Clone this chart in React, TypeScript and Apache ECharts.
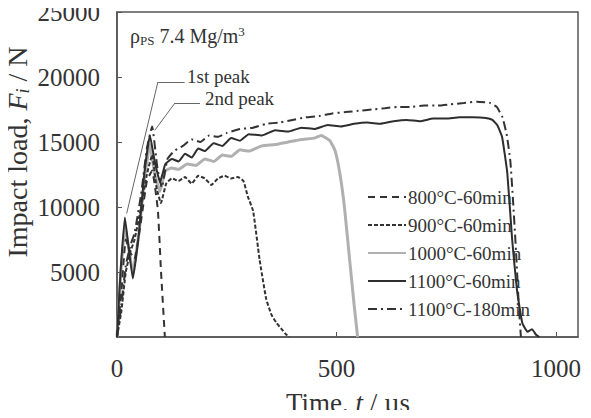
import React, { useEffect, useRef } from "react";
import * as echarts from "echarts";

// Impact load histories, time in µs and load in N
const t800 = [0, 10, 20, 30, 40, 55, 68, 80, 93, 100, 109];
const f800 = [0, 3500, 7500, 6500, 6000, 9000, 12000, 12800, 9800, 5200, 0];

const t900 = [0, 10, 20, 30, 40, 55, 68, 80, 90, 100, 112, 125, 140, 155, 170, 185, 200, 215, 230, 245, 260, 275, 288, 298, 310, 325, 340, 352, 363, 375, 385, 393];
const f900 = [0, 2000, 5000, 6500, 7500, 10000, 12500, 14000, 11500, 10300, 11800, 12200, 12000, 12300, 11800, 12400, 12200, 11700, 12200, 12400, 12200, 12300, 12000, 10800, 9700, 5900, 2900, 1700, 1100, 600, 200, 0];

const t1000 = [0, 8, 18, 26, 36, 50, 62, 75, 86, 98, 110, 125, 140, 160, 180, 200, 220, 240, 260, 280, 300, 330, 360, 390, 420, 450, 465, 485, 497, 508, 518, 530, 540, 548];
const f1000 = [0, 4500, 8500, 7000, 5000, 8000, 12000, 14800, 12500, 11200, 12800, 13000, 12900, 13300, 13200, 13700, 13500, 14000, 13900, 14400, 14300, 14700, 14800, 15000, 15200, 15300, 15500, 15100, 14300, 12500, 10000, 5900, 2500, 0];

const t1100 = [0, 8, 18, 26, 36, 50, 62, 75, 86, 98, 110, 125, 140, 155, 170, 185, 200, 220, 240, 260, 280, 300, 330, 360, 390, 420, 450, 480, 510, 540, 570, 600, 630, 660, 690, 720, 750, 780, 810, 840, 855, 866, 877, 889, 900, 911, 923, 935, 945, 955, 962];
const f1100 = [0, 5000, 9200, 7000, 4500, 8000, 12500, 15500, 13500, 11900, 13300, 13700, 13500, 14100, 13800, 14500, 14300, 14900, 14700, 15300, 15100, 15600, 15500, 15900, 15800, 16100, 16000, 16300, 16200, 16400, 16500, 16400, 16600, 16700, 16600, 16800, 16800, 16900, 16900, 16850, 16700, 16300, 15400, 12600, 7500, 3600, 1100, 400, 600, 150, 0];

const t1100l = [0, 10, 20, 30, 40, 55, 68, 80, 92, 102, 115, 130, 150, 170, 190, 210, 230, 250, 280, 310, 340, 370, 400, 430, 460, 490, 520, 550, 580, 610, 640, 670, 700, 730, 760, 790, 820, 850, 865, 878, 888, 896, 902, 909, 915, 920];
const f1100l = [0, 2500, 5500, 7000, 8000, 11000, 14500, 16200, 13000, 11500, 13700, 14300, 14700, 15200, 15000, 15500, 15400, 15700, 16000, 16100, 16400, 16500, 16700, 16900, 17000, 17200, 17300, 17400, 17500, 17600, 17700, 17700, 17800, 17800, 17900, 18000, 18100, 18000, 17700, 16900, 15500, 13500, 10500, 6500, 2500, 0];

const seriesNames = ["800°C-60min", "900°C-60min", "1000°C-60min", "1100°C-60min", "1100°C-180min"];
const xTicks = [0, 500, 1000];
const yTicks = [5000, 10000, 15000, 20000, 25000];

// Leader lines for the peak callouts, in data coordinates
const peak1Line = [[154, 19600], [93, 19600], [22, 9500]];
const peak2Line = [[189, 18000], [132, 18000], [86, 15900]];

const zip = (t: number[], f: number[]) => t.map((v, i) => [v, f[i]]);
const segs = (pts: number[][]) =>
  pts.slice(1).map((p, i) => [{ coord: pts[i] }, { coord: p }]);

const FONT = "'Liberation Serif', 'Times New Roman', serif";
const INK = "#333";

export default function App() {
  const ref = useRef<HTMLDivElement>(null);
  useEffect(() => {
    if (!ref.current) return;
    const chart = echarts.init(ref.current, undefined, { renderer: "svg" });
    const base = {
      type: "line",
      showSymbol: false,
      symbol: "none",
      smooth: 0.12,
      silent: true,
    };
    chart.setOption({
      animation: false,
      backgroundColor: "#fff",
      textStyle: { fontFamily: FONT },
      grid: {
        left: 117,
        top: 12,
        right: 13,
        bottom: 81,
        show: true,
        borderColor: "#555",
        borderWidth: 1.5,
        outerBoundsMode: "none",
        containLabel: false,
      },
      xAxis: {
        type: "value",
        min: 0,
        max: 1050,
        interval: 500,
        splitLine: { show: false },
        axisLine: { lineStyle: { color: "#555", width: 1.5 } },
        axisTick: { inside: true, length: 5, lineStyle: { color: "#555" } },
        axisLabel: {
          margin: 19,
          fontSize: 25,
          color: INK,
          fontFamily: FONT,
          showMaxLabel: false,
          formatter: (v: number) => (xTicks.includes(v) ? String(v) : ""),
        },
      },
      yAxis: {
        type: "value",
        min: 0,
        max: 25000,
        interval: 5000,
        splitLine: { show: false },
        axisLine: { lineStyle: { color: "#555", width: 1.5 } },
        axisTick: { inside: true, length: 5, lineStyle: { color: "#555" } },
        axisLabel: {
          margin: 17,
          fontSize: 25,
          color: INK,
          fontFamily: FONT,
          showMinLabel: false,
          formatter: (v: number) => (yTicks.includes(v) ? String(v) : ""),
        },
      },
      legend: {
        data: seriesNames,
        orient: "vertical",
        left: 362,
        top: 182,
        itemWidth: 38,
        itemHeight: 14,
        itemGap: 8,
        itemStyle: { opacity: 0 },
        textStyle: { fontSize: 19, color: INK, fontFamily: FONT, lineHeight: 20, padding: [0, 0, 0, -3] },
        selectedMode: false,
      },
      graphic: [
        {
          type: "text",
          x: 17,
          y: 152,
          rotation: Math.PI / 2,
          style: {
            text: "Impact load, {i|F}{s|i} / N",
            font: `28px ${FONT}`,
            fill: INK,
            align: "center",
            verticalAlign: "middle",
            rich: {
              i: { fontSize: 28, fontStyle: "italic", fontFamily: FONT, fill: INK },
              s: { fontSize: 18, fontStyle: "italic", fontFamily: FONT, fill: INK, padding: [11, 0, 0, 0] },
            },
          },
        },
        {
          type: "text",
          x: 348,
          y: 403,
          style: {
            text: "Time, {i|t} / µs",
            font: `27px ${FONT}`,
            fill: INK,
            align: "center",
            verticalAlign: "middle",
            rich: {
              i: { fontSize: 27, fontStyle: "italic", fontFamily: FONT, fill: INK },
            },
          },
        },
        {
          type: "text",
          x: 130,
          y: 36,
          style: {
            text: "ρ{s|PS} 7.4 Mg/m{p|3}",
            font: `20px ${FONT}`,
            fill: INK,
            verticalAlign: "middle",
            rich: {
              s: { fontSize: 13, fontFamily: FONT, fill: INK, padding: [8, 0, 0, 0] },
              p: { fontSize: 13, fontFamily: FONT, fill: INK, padding: [0, 0, 9, 0] },
            },
          },
        },
        {
          type: "text",
          x: 187,
          y: 76,
          style: { text: "1st peak", font: `19px ${FONT}`, fill: INK, verticalAlign: "middle" },
        },
        {
          type: "text",
          x: 205,
          y: 98,
          style: { text: "2nd peak", font: `19px ${FONT}`, fill: INK, verticalAlign: "middle" },
        },
      ],
      series: [
        {
          ...base,
          name: seriesNames[0],
          data: zip(t800, f800),
          lineStyle: { color: "#333", width: 2, type: [7, 5] },
          itemStyle: { color: "#333" },
          z: 3,
        },
        {
          ...base,
          name: seriesNames[1],
          data: zip(t900, f900),
          lineStyle: { color: "#333", width: 2, type: [4, 2] },
          itemStyle: { color: "#333" },
          z: 3,
        },
        {
          ...base,
          name: seriesNames[2],
          data: zip(t1000, f1000),
          lineStyle: { color: "#b0b0b0", width: 3, type: "solid" },
          itemStyle: { color: "#b0b0b0" },
          z: 2,
        },
        {
          ...base,
          name: seriesNames[3],
          data: zip(t1100, f1100),
          lineStyle: { color: "#2e2e2e", width: 2, type: "solid" },
          itemStyle: { color: "#2e2e2e" },
          z: 4,
          markLine: {
            silent: true,
            symbol: "none",
            label: { show: false },
            lineStyle: { color: "#666", width: 1, type: "solid" },
            data: [...segs(peak1Line), ...segs(peak2Line)],
          },
        },
        {
          ...base,
          name: seriesNames[4],
          data: zip(t1100l, f1100l),
          lineStyle: { color: "#333", width: 2, type: [9, 4, 2, 4] },
          itemStyle: { color: "#333" },
          z: 3,
        },
      ],
    });
    return () => chart.dispose();
  }, []);
  return <div ref={ref} style={{ width: 591, height: 418, margin: -8 }} />;
}
